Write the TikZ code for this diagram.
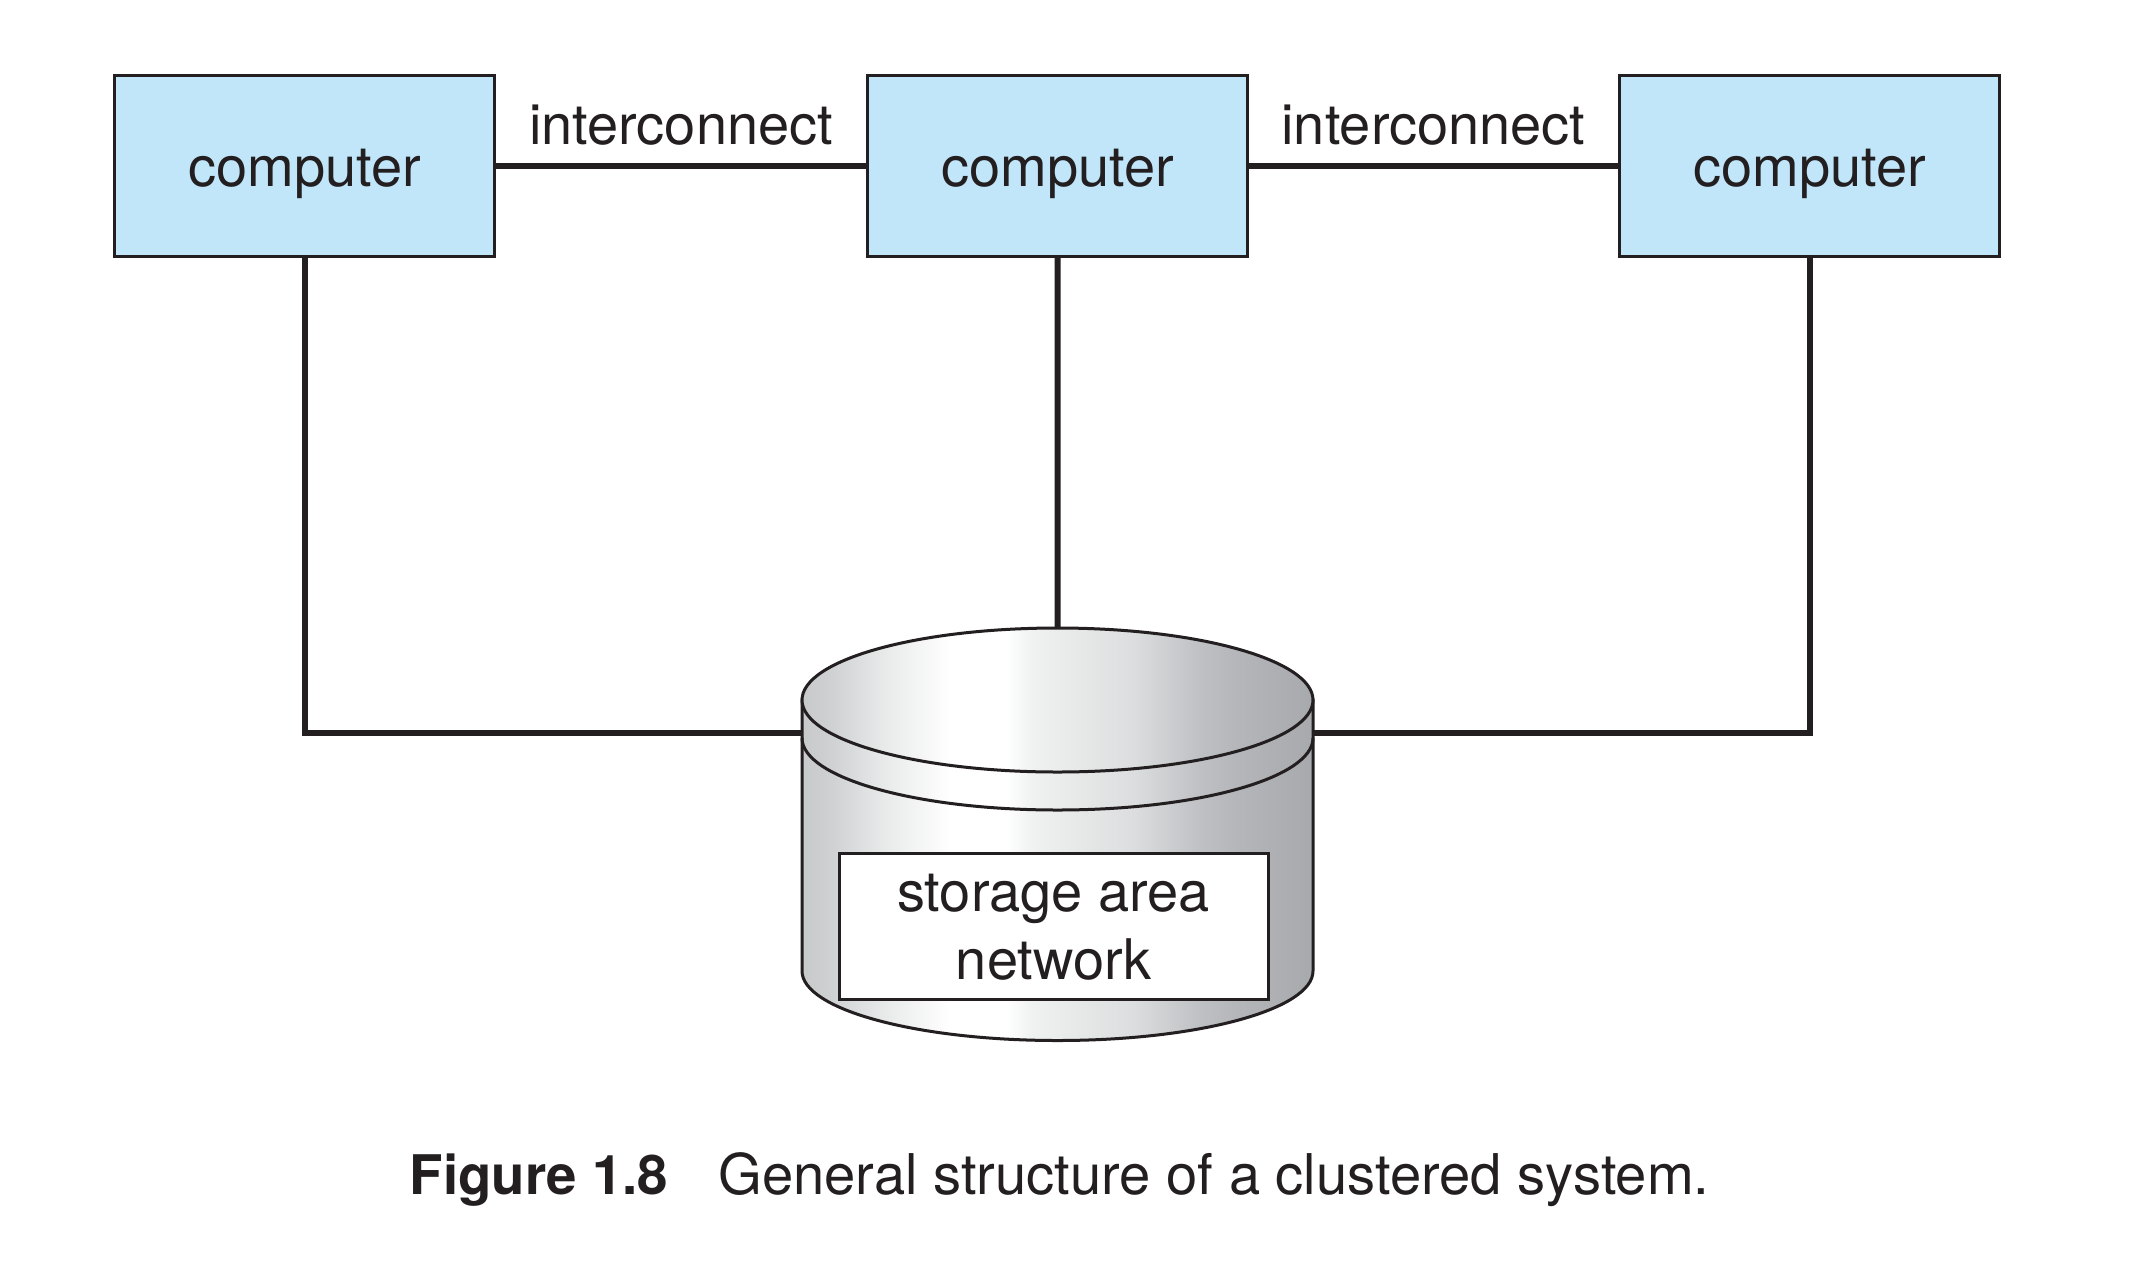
\documentclass[tikz,border=0pt]{standalone}
\usepackage{fontspec}
\setmainfont{TeX Gyre Heros}
\definecolor{ink}{HTML}{231F20}
\definecolor{boxblue}{HTML}{C1E6FA}
\definecolor{cs0}{HTML}{C8C9CB}
\definecolor{cs1}{HTML}{D0D1D3}
\definecolor{cs2}{HTML}{E8EAEA}
\definecolor{cs3}{HTML}{F8F8F8}
\definecolor{cs4}{HTML}{F0F1F1}
\definecolor{cs5}{HTML}{E6E8E7}
\definecolor{cs6}{HTML}{DCDDDF}
\definecolor{cs7}{HTML}{BFC0C3}
\definecolor{cs8}{HTML}{B5B6B9}
\definecolor{cs9}{HTML}{A8A9AC}
\pgfdeclarehorizontalshading{cylshade}{100bp}{color(0bp)=(cs0);color(25bp)=(cs0);color(28bp)=(cs1);color(33bp)=(cs2);color(37.5bp)=(cs3);color(39.5bp)=(white);color(45bp)=(white);color(47.5bp)=(cs4);color(52.5bp)=(cs5);color(57.5bp)=(cs6);color(64bp)=(cs7);color(67.5bp)=(cs8);color(75bp)=(cs9);color(100bp)=(cs9)}
\tikzset{
  x=1pt,y=-1pt,
  every node/.style={text=ink},
  computer/.style={draw=ink,line width=3pt,fill=boxblue,minimum width=380pt,minimum height=180.5pt,inner sep=0pt,font=\fontsize{56}{68}\selectfont,text height=41pt,text depth=0pt},
  wire/.style={draw=ink,line width=6pt,line cap=butt,line join=miter},
  linklabel/.style={anchor=base,inner sep=0pt,font=\fontsize{56}{68}\selectfont},
  cylpart/.style={shade,shading=cylshade,draw=ink,line width=3pt},
  cylline/.style={draw=ink,line width=3pt},
  sanbox/.style={draw=ink,line width=3pt,fill=white,minimum width=429pt,minimum height=146pt,inner sep=0pt},
  santext/.style={inner sep=0pt,align=center,font=\fontsize{56}{68}\selectfont},
  ghost/.style={minimum width=511pt,minimum height=413pt,inner sep=0pt},
  captiontext/.style={anchor=base west,inner sep=0pt,font=\fontsize{56}{68}\selectfont}
}
\begin{document}
\begin{tikzpicture}
\useasboundingbox (0,0) rectangle (2148,1262);
\node[ghost] (cyl) at (1057.5,834.5) {};
\coordinate (cylL) at (802,733);
\coordinate (cylR) at (1313,733);
\node[computer] (c1) at (304.9,165.8) {computer};
\node[computer] (c2) at (1057.6,165.8) {computer};
\node[computer] (c3) at (1809.7,165.8) {computer};
\draw[wire] (c1) -- (c2);
\draw[wire] (c2) -- (c3);
\draw[wire] (c2.south) -- (cyl.north);
\draw[wire] (c1.south) |- (cylL);
\draw[wire] (c3.south) |- (cylR);
\node[linklabel] (l1) at (681,144.8) {interconnect};
\node[linklabel] (l2) at (1433.5,144.8) {interconnect};
\path[cylpart] (802,700) -- (802,971) arc[start angle=180,end angle=360,x radius=255.5pt,y radius=69.5pt] -- (1313,700) -- cycle;
\draw[cylline] (802,738) arc[start angle=180,end angle=360,x radius=255.5pt,y radius=72pt];
\path[cylpart] (1057.5,700) ellipse[x radius=255.5pt,y radius=72pt];
\node[sanbox] (san) at (1053.5,926) {};
\node[santext] (santxt) at ([yshift=-1.4pt]san.center) {storage area\\network};
\node[captiontext] (cap) at (409.6,1194) {{\fontsize{54.6}{68}\selectfont\textbf{Figure 1.8}}\hspace{50.4pt}\fontsize{56.15}{68}\selectfont General structure of a clustered system.};
\end{tikzpicture}
\end{document}
